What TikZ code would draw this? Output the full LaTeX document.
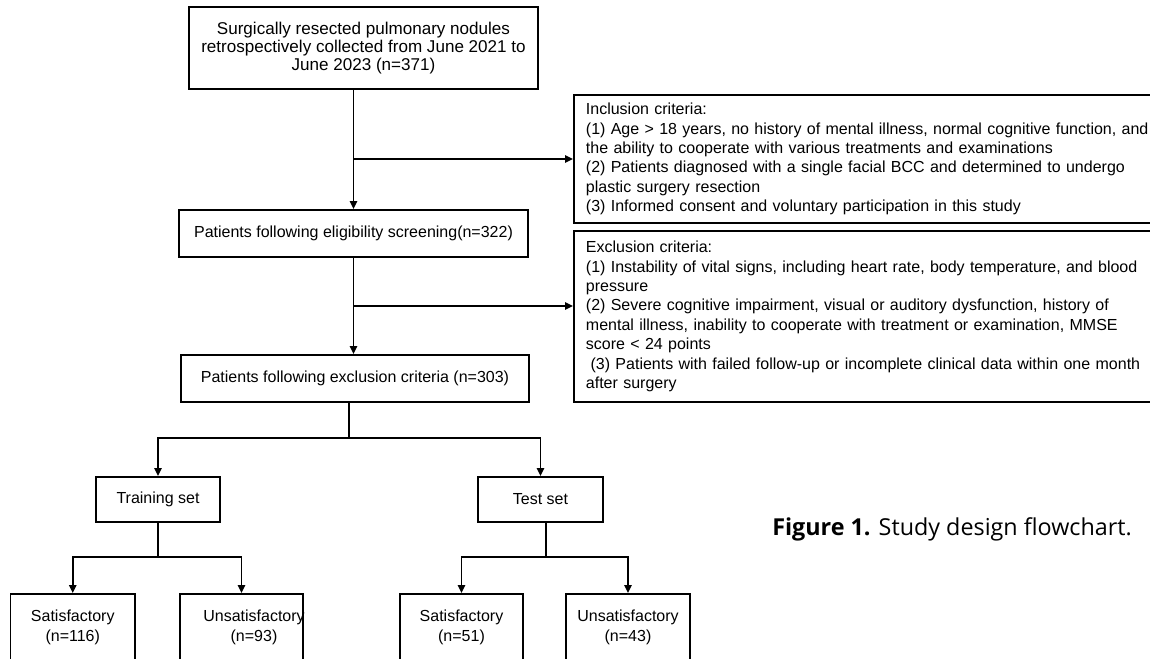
\documentclass[tikz,border=0pt]{standalone}
\usepackage{fontspec}
\setmainfont{Liberation Sans}
\newfontfamily\capfont{Open Sans}
\usetikzlibrary{arrows.meta,calc}
\begin{document}
\begin{tikzpicture}[x=0.75pt,y=-0.75pt,
  box/.style={draw,line width=1.4pt,inner sep=0pt,align=center,font=\fontsize{12}{14}\selectfont},
  crit/.style={draw,line width=1.4pt,anchor=west,align=left,text width=460pt,inner xsep=9pt,inner ysep=0pt,font=\fontsize{12}{14.55}\selectfont},
  leaf/.style={draw,line width=1.4pt,inner sep=0pt,align=center,minimum height=50.25pt,font=\fontsize{12}{15}\selectfont},
  leaftxt/.style={inner sep=0pt,align=center,font=\fontsize{12}{15}\selectfont},
  conn/.style={line width=1.3pt},
  arr/.style={conn,-{Triangle[length=6pt,width=5.5pt]}}]
\useasboundingbox[fill=white] (0,0) rectangle (1150,658);

\node[box,minimum width=261.75pt,minimum height=61.5pt,font=\fontsize{12.8}{13.8}\selectfont] (src) at (363.5,48)
  {Surgically resected pulmonary nodules\\retrospectively collected from June 2021 to\\June 2023 (n=371)};
\node[box,minimum width=261.75pt,minimum height=35.25pt] (elig) at (353.5,233.5)
  {Patients following eligibility screening(n=322)};
\node[box,minimum width=261pt,minimum height=35.25pt] (excl) at (355,378.5)
  {Patients following exclusion criteria (n=303)};

\node[crit,minimum height=96pt] (inc) at (573,159)
  {Inclusion criteria:\\
   (1) Age > 18 years, no history of mental illness, normal cognitive function, and\\
   the ability to cooperate with various treatments and examinations\\
   (2) Patients diagnosed with a single facial BCC and determined to undergo\\
   plastic surgery resection\\
   (3) Informed consent and voluntary participation in this study};
\node[crit,minimum height=128.25pt] (exc) at (573,316.5)
  {Exclusion criteria:\\
   (1) Instability of vital signs, including heart rate, body temperature, and blood\\
   pressure\\
   (2) Severe cognitive impairment, visual or auditory dysfunction, history of\\
   mental illness, inability to cooperate with treatment or examination, MMSE\\
   score < 24 points\\
   \hspace*{3.5pt}(3) Patients with failed follow-up or incomplete clinical data within one month\\
   after surgery};

\node[box,minimum width=93pt,minimum height=33.75pt] (train) at (158,499.5) {Training set};
\node[box,minimum width=93.75pt,minimum height=33.75pt] (test) at (540.5,499.5) {Test set};

\node[leaf,minimum width=93.4pt] (s1) at (72.75,627.5) {Satisfactory\\(n=116)};
\node[leaf,minimum width=92.25pt] (u1) at (241.5,627.5) {};
\node[leaftxt] (u1t) at (254,627.5) {Unsatisfactory\\(n=93)};
\node[leaf,minimum width=92.25pt] (s2) at (461.5,627.5) {Satisfactory\\(n=51)};
\node[leaf,minimum width=93pt] (u2) at (628,627.5) {Unsatisfactory\\(n=43)};

\node[anchor=west,inner sep=0pt,font=\capfont\fontsize{17.5}{19}\selectfont] (cap) at (772,529)
  {\textbf{Figure 1.} Study design flowchart.};

% connectors
\draw[arr] (src.south -| elig.north) -- (elig.north);
\coordinate (j1) at (elig.north |- inc.west);
\draw[arr] (j1) -- (inc.west);
\draw[arr] (elig.south) -- (elig.south |- excl.north);
\coordinate (j2) at (353.5,306);
\draw[arr] (j2) -- (j2 -| exc.west);
\coordinate (b1) at (349,438);
\draw[conn] (excl.south -| b1) -- (b1);
\draw[arr] (b1) -| (train.north);
\draw[arr] (b1) -| (test.north);
\coordinate (b2) at (158,557);
\draw[conn] (train.south) -- (b2);
\draw[arr] (b2) -| (s1.north);
\draw[arr] (b2) -| (u1.north);
\coordinate (b3) at (546,557);
\draw[conn] (test.south -| b3) -- (b3);
\draw[arr] (b3) -| (s2.north);
\draw[arr] (b3) -| (u2.north);
\end{tikzpicture}
\end{document}
